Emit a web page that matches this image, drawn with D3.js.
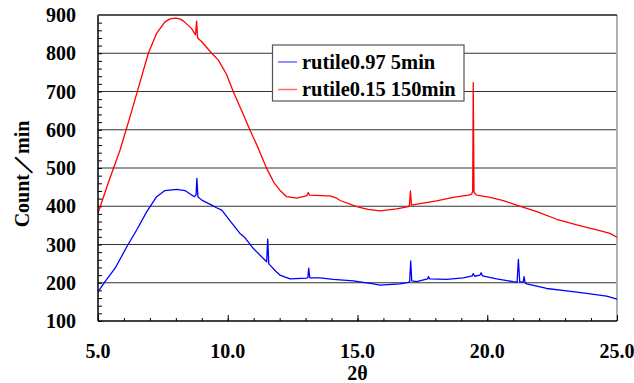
<!DOCTYPE html>
<html>
<head>
<meta charset="utf-8">
<script src="https://cdn.jsdelivr.net/npm/d3@7"></script>
<style>
  body { margin: 0; background: #fff; }
  text { font-family: "Liberation Serif", "Times New Roman", serif; font-weight: bold; }
</style>
</head>
<body>
<svg id="chart" width="634" height="383"></svg>
<script>
// values
const seriesNames = ["rutile0.97 5min", "rutile0.15 150min"];
const seriesColors = ["#0000ff", "#ff0000"];
const legendColors = ["#6b6bff", "#ff6b6b"];

const blueT = [5.0, 5.27, 5.66, 6.11, 6.49, 6.88, 7.26, 7.58, 8.03, 8.35, 8.71, 8.78, 8.81, 8.85, 9.0, 9.38, 9.57, 9.77, 10.09, 10.47, 10.66,
  10.98, 11.44, 11.50, 11.54, 11.58, 11.63, 11.85, 12.01, 12.40, 13.04, 13.09, 13.12, 13.16, 13.55, 14.07, 14.84, 15.61, 15.87, 16.64,
  16.96, 17.01, 17.05, 17.09, 17.28, 17.70, 17.73, 17.78, 18.44, 19.08, 19.42, 19.46, 19.52, 19.72, 19.76, 19.82, 20.36, 21.0,
  21.15, 21.20, 21.25, 21.38, 21.42, 21.46, 21.52, 22.29, 23.06, 23.83, 24.60, 25.0];
const blueV = [176, 203, 238, 294, 338, 386, 425, 441, 444, 441, 425, 430, 473, 425, 416, 403, 396, 390, 362, 329, 318,
  290, 259, 255, 314, 250, 246, 230, 220, 210, 212, 214, 238, 213, 213, 209, 205, 197, 194, 197,
  201, 203, 257, 205, 203, 210, 216, 210, 209, 213, 218, 224, 217, 220, 226, 218, 210, 203,
  202, 261, 203, 201, 216, 200, 197, 185, 179, 172, 165, 157];

const redT = [5.0, 5.4, 5.85, 6.23, 6.6, 6.94, 7.26, 7.58, 7.78, 7.97, 8.15, 8.3, 8.6, 8.76, 8.80, 8.84, 9.0, 9.38, 9.64, 9.95, 10.21, 10.55, 10.86, 11.2, 11.5,
  11.78, 12.01, 12.27, 12.66, 13.05, 13.10, 13.15, 13.81, 13.94, 14.2, 14.33, 14.97, 15.4, 15.87, 16.51, 16.96, 17.00, 17.04, 17.08, 17.41,
  18.05, 18.69, 19.27, 19.40, 19.44, 19.46, 19.49, 19.59, 20.11, 20.62, 21.13, 21.91, 22.68, 23.45, 24.22, 24.73, 25.0];
const redV = [382, 462, 547, 633, 720, 800, 852, 882, 890, 892, 890, 884, 865, 848, 884, 840, 830, 800, 782, 745, 700, 648, 599, 548, 499,
  462, 442, 425, 421, 428, 436, 429, 427, 427, 421, 415, 399, 392, 388, 393, 399, 401, 440, 403, 407,
  414, 423, 429, 432, 440, 723, 436, 429, 423, 415, 403, 386, 366, 351, 338, 329, 319];

const xTicks = [5, 10, 15, 20, 25];
const yTicks = [100, 200, 300, 400, 500, 600, 700, 800, 900];

const width = 634, height = 383;
const margin = { left: 98, right: 17, top: 15, bottom: 62 };
const svg = d3.select("#chart");

const x = d3.scaleLinear().domain([5, 25]).range([margin.left, width - margin.right]);
const y = d3.scaleLinear().domain([100, 900]).range([height - margin.bottom, margin.top]);

// grid lines
svg.append("g").selectAll("line").data(yTicks.slice(1)).enter().append("line")
  .attr("x1", x(5)).attr("x2", x(25))
  .attr("y1", d => y(d)).attr("y2", d => y(d))
  .attr("stroke", "#333").attr("stroke-width", 1.2);

// right frame
svg.append("line").attr("x1", x(25)).attr("x2", x(25)).attr("y1", y(900)).attr("y2", y(100))
  .attr("stroke", "#b0b0b0").attr("stroke-width", 2);

// minor ticks
svg.append("g").attr("transform", `translate(${x(5)},0)`)
  .call(d3.axisLeft(y).tickValues(d3.range(100, 901, 20)).tickSize(-4).tickFormat(""))
  .call(g => g.select(".domain").remove())
  .call(g => g.selectAll("line").attr("stroke", "#000"));
svg.append("g").attr("transform", `translate(0,${y(100)})`)
  .call(d3.axisBottom(x).tickValues(d3.range(5, 25.01, 1)).tickSize(-3).tickFormat(""))
  .call(g => g.select(".domain").remove());
svg.append("g").attr("transform", `translate(0,${y(100)})`)
  .call(d3.axisBottom(x).tickValues(xTicks).tickSize(-6).tickFormat(""))
  .call(g => g.select(".domain").remove());

// series
const series = [[blueT, blueV], [redT, redV]];
const line = d3.line().x(d => x(d[0])).y(d => y(d[1]));
series.forEach((s, i) => {
  svg.append("path")
    .datum(d3.zip(s[0], s[1]))
    .attr("fill", "none")
    .attr("stroke", seriesColors[i])
    .attr("stroke-width", 1.3)
    .attr("stroke-linejoin", "round")
    .attr("d", line);
});

// axes lines
svg.append("line").attr("x1", x(5)).attr("x2", x(5)).attr("y1", y(900)).attr("y2", y(100))
  .attr("stroke", "#000").attr("stroke-width", 1.5);
svg.append("line").attr("x1", x(5)).attr("x2", x(25)).attr("y1", y(100)).attr("y2", y(100))
  .attr("stroke", "#000").attr("stroke-width", 1.5);
svg.append("line").attr("x1", x(5)).attr("x2", x(25)).attr("y1", y(900)).attr("y2", y(900))
  .attr("stroke", "#555").attr("stroke-width", 2);

// tick labels
svg.append("g").selectAll("text").data(yTicks).enter().append("text")
  .attr("x", 76).attr("y", d => y(d) + 7)
  .attr("text-anchor", "end").attr("font-size", 20)
  .text(d => d);
svg.append("g").selectAll("text").data(xTicks).enter().append("text")
  .attr("x", d => x(d)).attr("y", 358)
  .attr("text-anchor", "middle").attr("font-size", 20)
  .text(d => d.toFixed(1));

// axis titles
svg.append("text").attr("x", x(15)).attr("y", 380)
  .attr("text-anchor", "middle").attr("font-size", 20).text("2θ");
svg.append("text").attr("transform", "translate(29,174) rotate(-90)")
  .attr("text-anchor", "middle").attr("font-size", 20).text("Count／min");

// legend
const legend = svg.append("g");
legend.append("rect").attr("x", 272.5).attr("y", 45).attr("width", 191.5).attr("height", 56)
  .attr("fill", "#fff").attr("stroke", "#555").attr("stroke-width", 1.2);
seriesNames.forEach((name, i) => {
  const ly = 62 + i * 27.5;
  legend.append("line").attr("x1", 278).attr("x2", 297).attr("y1", ly).attr("y2", ly)
    .attr("stroke", legendColors[i]).attr("stroke-width", 1.5);
  legend.append("text").attr("x", 302).attr("y", ly + 6.5).attr("font-size", 20.5).text(name);
});
</script>
</body>
</html>
